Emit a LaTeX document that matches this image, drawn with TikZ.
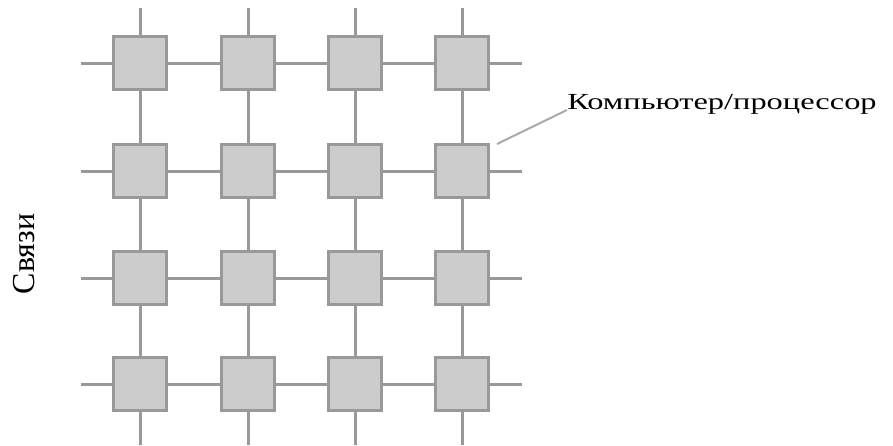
\documentclass[tikz,border=0pt]{standalone}
\usepackage{fontspec}
\setmainfont{Liberation Serif}
\begin{document}
\begin{tikzpicture}[x=1pt,y=-1pt,
  cpu/.style={draw=linkgray, fill=cpufill, line width=3pt, minimum size=53pt, inner sep=0pt},
  link/.style={draw=linkgray, line width=3pt},
  leader/.style={draw=leadgray, line width=2pt}]
\definecolor{linkgray}{HTML}{999999}
\definecolor{cpufill}{HTML}{CCCCCC}
\definecolor{leadgray}{HTML}{AAAAAA}
\useasboundingbox (0,0) rectangle (893,445);
% processors of the 4x4 mesh
\foreach \c/\x in {1/140,2/248,3/355,4/462}
  \foreach \r/\y in {1/63,2/171,3/278,4/384}
    \node[cpu] (p\c\r) at (\x,\y) {};
% free ends of the border links
\foreach \c/\x in {1/140,2/248,3/355,4/462} {
  \coordinate (t\c) at (\x,8);
  \coordinate (b\c) at (\x,445);
}
\foreach \r/\y in {1/63,2/171,3/278,4/384} {
  \coordinate (l\r) at (81,\y);
  \coordinate (r\r) at (522,\y);
}
% links between neighbours
\foreach \c in {1,2,3,4} {
  \draw[link] (t\c) -- (p\c1);
  \draw[link] (p\c1) -- (p\c2);
  \draw[link] (p\c2) -- (p\c3);
  \draw[link] (p\c3) -- (p\c4);
  \draw[link] (p\c4) -- (b\c);
}
\foreach \r in {1,2,3,4} {
  \draw[link] (l\r) -- (p1\r);
  \draw[link] (p1\r) -- (p2\r);
  \draw[link] (p2\r) -- (p3\r);
  \draw[link] (p3\r) -- (p4\r);
  \draw[link] (p4\r) -- (r\r);
}
% labels
\node[anchor=base west, inner sep=0pt, font=\fontsize{23}{26}\selectfont, xscale=1.41] (lbl) at (567,109) {Компьютер/процессор};
\coordinate (tip) at (497,144);
\draw[leader] (tip) -- ([yshift=-1pt]lbl.base west);
\node[rotate=90, inner sep=0pt, font=\fontsize{32}{35}\selectfont] (links) at (24,254) {Связи};
\end{tikzpicture}
\end{document}
